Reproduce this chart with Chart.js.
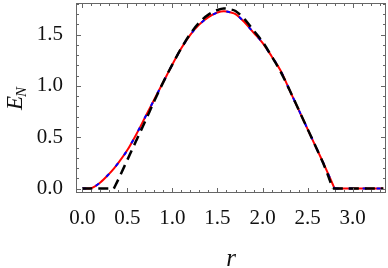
<!DOCTYPE html>
<html>
<head>
<meta charset="utf-8">
<script src="https://cdn.jsdelivr.net/npm/chart.js@4.4.1/dist/chart.umd.min.js"></script>
<style>
  html, body { margin: 0; padding: 0; background: #fff; }
</style>
</head>
<body>
<canvas id="chart" width="388" height="268"></canvas>
<script>
// values
rValues = [0, 0.05, 0.1, 0.2, 0.3, 0.35, 0.4, 0.5, 0.6, 0.7, 0.8, 0.9, 1.0, 1.1, 1.2, 1.3, 1.4, 1.5, 1.57, 1.65, 1.7, 1.8, 1.9, 2.0, 2.1, 2.2, 2.3, 2.4, 2.5, 2.6, 2.7, 2.78, 2.8, 2.9, 3.0, 3.1, 3.2, 3.34];
exactValues = [0, 0, 0.005, 0.06, 0.146, 0.195, 0.25, 0.375, 0.53, 0.70, 0.87, 1.04, 1.21, 1.37, 1.50, 1.60, 1.67, 1.715, 1.727, 1.715, 1.70, 1.62, 1.52, 1.42, 1.29, 1.15, 0.96, 0.77, 0.58, 0.39, 0.2, 0.04, 0, 0, 0, 0, 0, 0];
approxValues = [0, 0, 0, 0, 0, 0, 0.09, 0.28, 0.47, 0.66, 0.855, 1.04, 1.21, 1.37, 1.51, 1.62, 1.695, 1.74, 1.755, 1.745, 1.73, 1.65, 1.54, 1.43, 1.29, 1.14, 0.96, 0.77, 0.58, 0.39, 0.19, 0, 0, 0, 0, 0, 0, 0];
xTicks = [0, 0.5, 1.0, 1.5, 2.0, 2.5, 3.0];
yTicks = [0, 0.5, 1.0, 1.5];

X_MIN = -0.07;
X_MAX = 3.37;
Y_MIN = -0.043;
Y_MAX = 1.808;
SERIF = '"Liberation Serif", "Times New Roman", serif';

// points from index i0 to i1 (inclusive), so kinks stay sharp between pieces
function toPoints(ys, i0, i1) {
    const pts = [];
    for (let i = i0; i <= i1; i++) pts.push({ x: rValues[i], y: ys[i] });
    return pts;
}

// find the index of an r value
function idx(r) {
    return rValues.indexOf(r);
}

function line(ys, i0, i1, color, width, dash, order) {
    return {
        data: toPoints(ys, i0, i1),
        borderColor: color,
        borderWidth: width,
        borderDash: dash,
        cubicInterpolationMode: 'monotone',
        pointRadius: 0,
        order: order
    };
}

// frame, inward ticks and the E_N label
framePlugin = {
    id: 'frame',
    afterDraw(chart) {
        const ctx = chart.ctx;
        const a = chart.chartArea;
        const xs = chart.scales.x;
        const ys = chart.scales.y;
        ctx.save();
        ctx.strokeStyle = '#666';
        ctx.lineWidth = 1;
        ctx.strokeRect(a.left + 0.5, a.top + 0.5, a.right - a.left - 1, a.bottom - a.top - 1);

        ctx.beginPath();
        for (let i = 0; i * 0.1 < X_MAX; i++) {
            const v = i * 0.1;
            const len = i % 5 == 0 ? 5 : 3;
            const px = Math.round(xs.getPixelForValue(v)) + 0.5;
            ctx.moveTo(px, a.bottom); ctx.lineTo(px, a.bottom - len);
            ctx.moveTo(px, a.top); ctx.lineTo(px, a.top + len);
        }
        for (let i = 0; i * 0.1 < Y_MAX; i++) {
            const v = i * 0.1;
            const len = i % 5 == 0 ? 5 : 3;
            const py = Math.round(ys.getPixelForValue(v)) + 0.5;
            ctx.moveTo(a.left, py); ctx.lineTo(a.left + len, py);
            ctx.moveTo(a.right, py); ctx.lineTo(a.right - len, py);
        }
        ctx.stroke();

        ctx.translate(22, (a.top + a.bottom) / 2);
        ctx.rotate(-Math.PI / 2);
        ctx.fillStyle = '#111';
        ctx.textBaseline = 'alphabetic';
        ctx.font = 'italic 23px ' + SERIF;
        const wE = ctx.measureText('E').width;
        ctx.font = 'italic 15px ' + SERIF;
        const wN = ctx.measureText('N').width;
        const start = -(wE + wN) / 2;
        ctx.font = 'italic 23px ' + SERIF;
        ctx.fillText('E', start, 0);
        ctx.font = 'italic 15px ' + SERIF;
        ctx.fillText('N', start + wE - 1, 4);
        ctx.restore();
    }
};

last = rValues.length - 1;

ctx = document.getElementById('chart');

chart = new Chart(ctx, {
    type: 'line',
    data: {
        datasets: [
            line(approxValues, 0, idx(0.35), '#000', 2.5, [10, 6], 0),
            line(approxValues, idx(0.35), idx(2.78), '#000', 2.5, [10, 6], 0),
            line(approxValues, idx(2.78), last, '#000', 2.5, [10, 6], 0),
            line(exactValues, 0, idx(2.8), '#0000ff', 2, [4, 10], 1),
            line(exactValues, idx(2.8), last, '#0000ff', 2, [4, 10], 1),
            line(exactValues, 0, idx(2.8), '#ff0000', 2, [], 2),
            line(exactValues, idx(2.8), last, '#ff0000', 2, [], 2)
        ]
    },
    options: {
        responsive: false,
        animation: false,
        layout: {
            padding: { top: 3, right: 2, left: 0, bottom: 0 }
        },
        scales: {
            x: {
                type: 'linear',
                min: X_MIN,
                max: X_MAX,
                afterBuildTicks: (axis) => {
                    axis.ticks = xTicks.map(v => ({ value: v }));
                },
                afterFit: (axis) => {
                    axis.height = 75;
                    axis.paddingLeft = 0;
                    axis.paddingRight = 0;
                },
                grid: { display: false },
                border: { display: false },
                ticks: {
                    color: '#111',
                    padding: 5,
                    maxRotation: 0,
                    autoSkip: false,
                    font: { family: SERIF, size: 21 },
                    callback: (v) => v.toFixed(1)
                },
                title: {
                    display: true,
                    text: 'r',
                    color: '#111',
                    padding: { top: 0, bottom: -6 },
                    font: { family: SERIF, size: 25, style: 'italic' }
                }
            },
            y: {
                min: Y_MIN,
                max: Y_MAX,
                afterBuildTicks: (axis) => {
                    axis.ticks = yTicks.map(v => ({ value: v }));
                },
                afterFit: (axis) => {
                    axis.width = 76;
                    axis.paddingTop = 0;
                    axis.paddingBottom = 0;
                },
                grid: { display: false },
                border: { display: false },
                ticks: {
                    color: '#111',
                    padding: 5,
                    font: { family: SERIF, size: 21 },
                    callback: (v) => v.toFixed(1)
                }
            }
        },
        plugins: {
            legend: { display: false },
            tooltip: { enabled: false }
        }
    },
    plugins: [framePlugin]
});
</script>
</body>
</html>
